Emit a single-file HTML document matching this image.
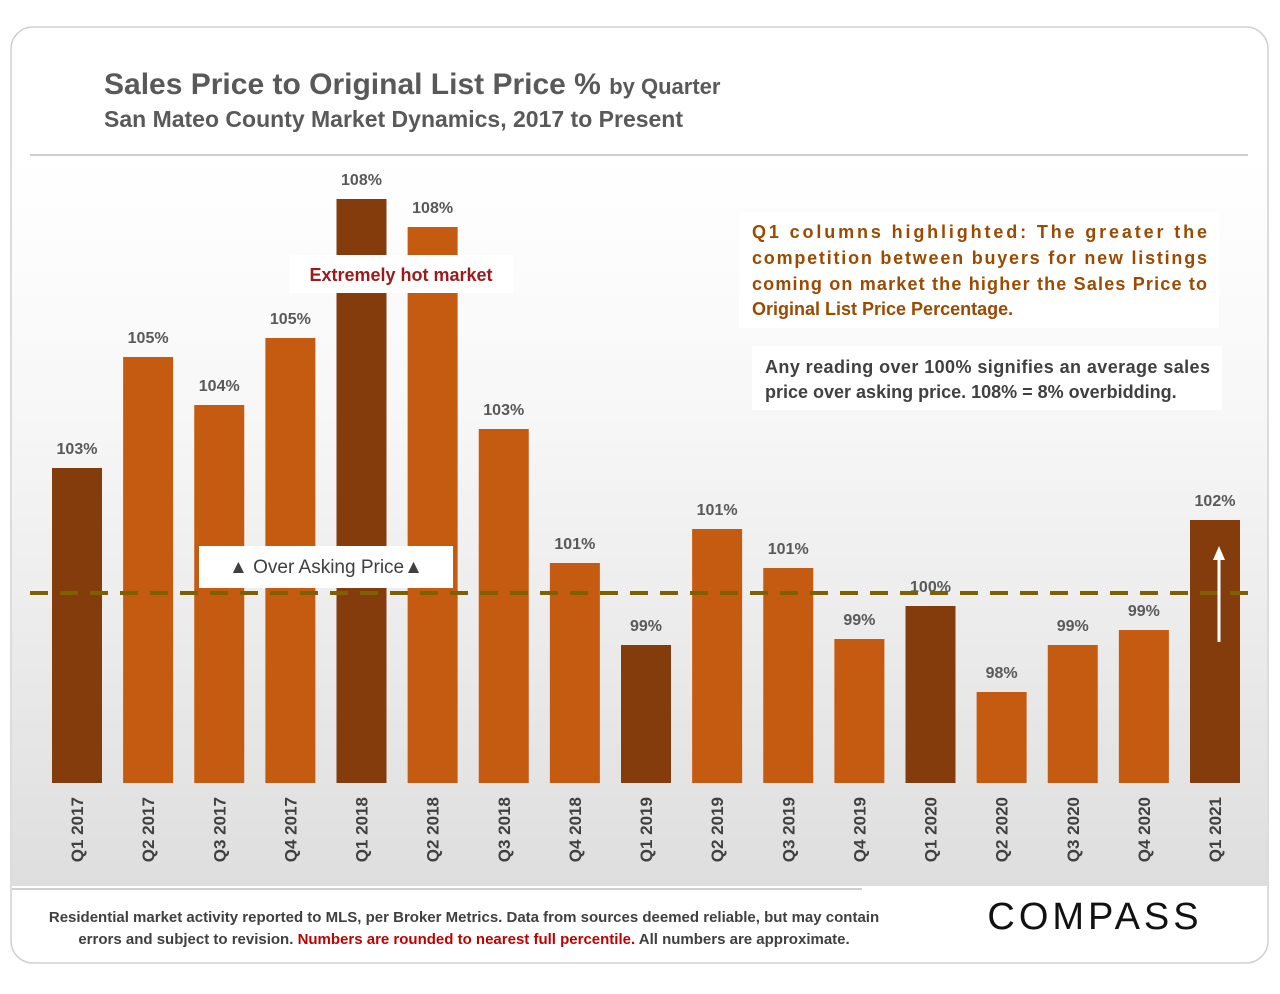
<!DOCTYPE html>
<html><head><meta charset="utf-8"><style>
html,body{margin:0;padding:0;background:#fff;}
body{width:1280px;height:989px;position:relative;overflow:hidden;font-family:"Liberation Sans",sans-serif;}
svg text{font-family:"Liberation Sans",sans-serif;}
</style></head><body>
<svg id="chart" width="1280" height="989" viewBox="0 0 1280 989">
<defs>
<linearGradient id="bg" x1="0" y1="0" x2="0" y2="1">
<stop offset="0" stop-color="#ffffff"/><stop offset="0.35" stop-color="#f7f7f7"/><stop offset="1" stop-color="#dedede"/>
</linearGradient>
</defs>
<rect x="11" y="27" width="1257" height="936" rx="22" fill="#fff" stroke="#d0d0d0" stroke-width="1.5"/>
<rect x="12" y="156" width="1255" height="730" fill="url(#bg)"/>
<line x1="30" y1="155" x2="1248" y2="155" stroke="#cfcfcf" stroke-width="2"/>
<line x1="12" y1="889" x2="862" y2="889" stroke="#cfcfcf" stroke-width="2"/>
<text x="104" y="94" font-size="30" font-weight="bold" fill="#595959">Sales Price to Original List Price % <tspan font-size="22">by Quarter</tspan></text>
<text x="104" y="127" font-size="23" font-weight="bold" fill="#595959">San Mateo County Market Dynamics, 2017 to Present</text>
<g id="bars"></g>
<g id="xlabels"></g>
<line id="refline" x1="30" x2="1248" stroke="#7f6000" stroke-width="4" stroke-dasharray="18,12"/>
<rect x="199" y="546" width="254" height="42" fill="#fff"/>
<text x="326" y="573" font-size="19" text-anchor="middle" fill="#404040">▲ Over Asking Price▲</text>
<rect x="289" y="255" width="224" height="38" fill="#fff"/>
<text x="401" y="281" font-size="18" font-weight="bold" text-anchor="middle" fill="#9c1a1a">Extremely hot market</text>
<rect x="739" y="212" width="480" height="116" fill="#fff"/>
<g font-size="18" font-weight="bold" fill="#9c4a00">
<text x="752" y="238" textLength="455" lengthAdjust="spacing">Q1 columns highlighted: The greater the</text>
<text x="752" y="264" textLength="455" lengthAdjust="spacing">competition between buyers for new listings</text>
<text x="752" y="290" textLength="455" lengthAdjust="spacing">coming on market the higher the Sales Price to</text>
<text x="752" y="315">Original List Price Percentage.</text>
</g>
<rect x="752" y="346" width="470" height="64" fill="#fff"/>
<g font-size="18" font-weight="bold" fill="#404040">
<text x="765" y="373" textLength="445" lengthAdjust="spacing">Any reading over 100% signifies an average sales</text>
<text x="765" y="398">price over asking price. 108% = 8% overbidding.</text>
</g>
<line x1="1219" y1="642" x2="1219" y2="556" stroke="#fff" stroke-width="3"/>
<polygon points="1219,546 1213,560 1225,560" fill="#fff"/>
<g font-size="15" font-weight="bold" fill="#404040">
<text x="464" y="922" text-anchor="middle">Residential market activity reported to MLS, per Broker Metrics. Data from sources deemed reliable, but may contain</text>
<text x="464" y="944" text-anchor="middle">errors and subject to revision. <tspan fill="#c00000">Numbers are rounded to nearest full percentile.</tspan> All numbers are approximate.</text>
</g>
<text x="1095" y="929" font-size="38" text-anchor="middle" fill="#111" letter-spacing="4">COMPASS</text>
</svg>
<script>
const categories=["Q1 2017","Q2 2017","Q3 2017","Q4 2017","Q1 2018","Q2 2018","Q3 2018","Q4 2018","Q1 2019","Q2 2019","Q3 2019","Q4 2019","Q1 2020","Q2 2020","Q3 2020","Q4 2020","Q1 2021"];
const values=[102.6,104.82,103.86,105.2,107.98,107.42,103.38,100.7,99.06,101.38,100.6,99.18,99.84,98.12,99.06,99.36,101.56];
const valueLabels=["103%","105%","104%","105%","108%","108%","103%","101%","99%","101%","101%","99%","100%","98%","99%","99%","102%"];
const referenceValue=100.1;
const NS="http://www.w3.org/2000/svg";
const baseY=783,v0=96.3,pxPer=50,x0=52,step=71.125,bw=50;
function yScale(v){return baseY-(v-v0)*pxPer;}
function xScale(i){return x0+i*step;}
const bars=document.getElementById('bars'),xl=document.getElementById('xlabels');
categories.forEach((c,i)=>{
  const x=xScale(i),y=yScale(values[i]);
  const r=document.createElementNS(NS,'rect');
  r.setAttribute('x',x);r.setAttribute('y',y);r.setAttribute('width',bw);r.setAttribute('height',baseY-y);
  r.setAttribute('fill',c.startsWith('Q1')?'#843c0c':'#c55a11');
  
  
  bars.appendChild(r);
  const t=document.createElementNS(NS,'text');
  t.setAttribute('x',x+bw/2);t.setAttribute('y',y-14);t.setAttribute('text-anchor','middle');
  t.setAttribute('font-size','16');t.setAttribute('font-weight','bold');t.setAttribute('fill','#595959');
  t.textContent=valueLabels[i];
  
  
  bars.appendChild(t);
  const l=document.createElementNS(NS,'text');
  const lx=x+bw/2+6,ly=797;
  l.setAttribute('x',lx);l.setAttribute('y',ly);l.setAttribute('text-anchor','end');
  l.setAttribute('transform','rotate(-90 '+lx+' '+ly+')');
  l.setAttribute('font-size','17');l.setAttribute('font-weight','bold');l.setAttribute('fill','#404040');
  l.textContent=c;
  
  
  xl.appendChild(l);
});
const rl=document.getElementById('refline');
rl.setAttribute('y1',yScale(referenceValue));rl.setAttribute('y2',yScale(referenceValue));
</script>
</body></html>
